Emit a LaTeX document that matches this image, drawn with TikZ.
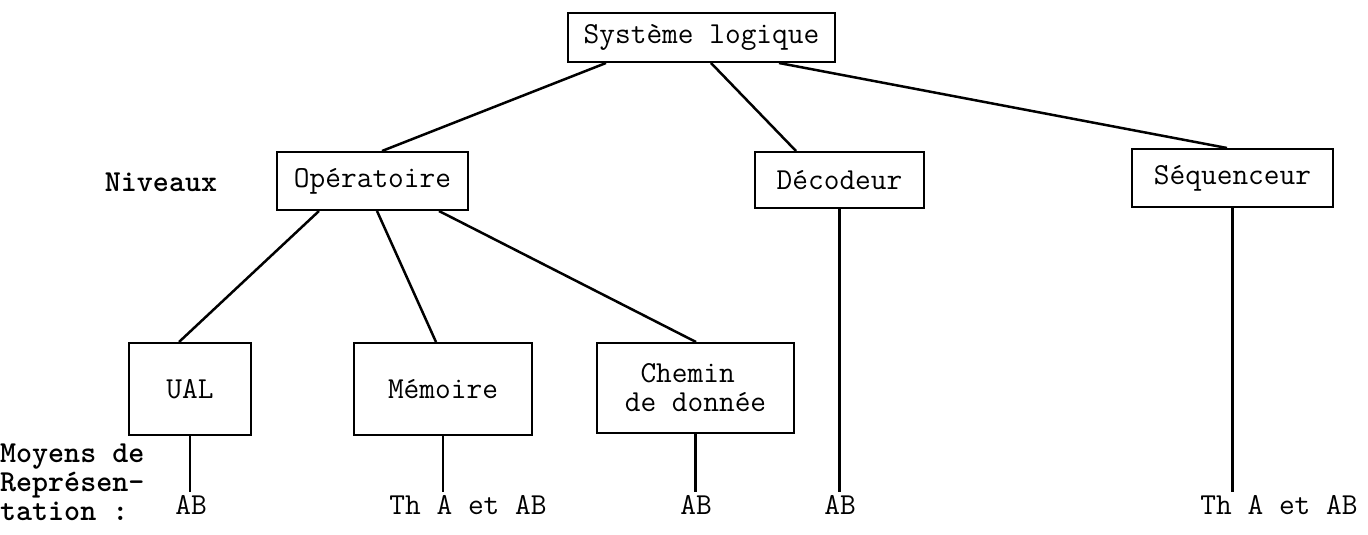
\documentclass[tikz,border=0pt]{standalone}
\usepackage{fontspec}
\begin{document}
\begin{tikzpicture}[x=1pt,y=-1pt,
  every node/.style={font=\ttfamily\fontsize{30.5}{29}\selectfont, inner sep=0pt, text=black},
  box/.style={draw, line width=2pt},
  conn/.style={line width=2.5pt},
  lab/.style={text height=18pt, text depth=0pt, anchor=base},
  side/.style={font=\ttfamily\bfseries\fontsize{30.5}{29}\selectfont}]
\useasboundingbox[fill=white] (0,0) rectangle (1368,535);
% top
\node[box, minimum width=267pt, minimum height=49pt] (sys) at (701.5,37.5) {Système logique};
% level 2
\node[side] (niv) at (161,182) {Niveaux};
\node[box, minimum width=191pt, minimum height=58pt] (ope) at (372.5,181) {Opératoire};
\node[box, minimum width=169pt, minimum height=56pt] (dec) at (839.5,180) {Décodeur};
\node[box, minimum width=201pt, minimum height=58pt] (seq) at (1232.5,178) {Séquenceur};
% level 3
\node[box, minimum width=122pt, minimum height=92pt] (ual) at (190,389) {UAL};
\node[box, minimum width=178pt, minimum height=92pt] (mem) at (443,389) {Mémoire};
\node[box, minimum width=197pt, minimum height=90pt, align=left] (che) at (695.5,388) {~Chemin\\de donnée};
% representation labels
\node[side, align=left, anchor=north west] (moy) at (0,444) {Moyens de\\Représen-\\tation :};
\node[lab] (ualab) at (191,514) {AB};
\node[lab] (memlab) at (468,514) {Th A et AB};
\node[lab] (chelab) at (696,514) {AB};
\node[lab] (declab) at (840,514) {AB};
\node[lab] (seqlab) at (1279,514) {Th A et AB};
% connectors
\draw[conn] ([xshift=39pt]sys.south west) -- ([xshift=106pt]ope.north west);
\draw[conn] ([xshift=144pt]sys.south west) -- ([xshift=42pt]dec.north west);
\draw[conn] ([xshift=212pt]sys.south west) -- ([xshift=96pt]seq.north west);
\draw[conn] ([xshift=43pt]ope.south west) -- ([xshift=51pt]ual.north west);
\draw[conn] ([xshift=101pt]ope.south west) -- ([xshift=83pt]mem.north west);
\draw[conn] ([xshift=163pt]ope.south west) -- ([xshift=100pt]che.north west);
\draw[conn] (ual.south) -- ([yshift=4pt]ualab.north -| ual.south);
\draw[conn] (mem.south) -- ([yshift=4pt]memlab.north -| mem.south);
\draw[conn] (che.south) -- ([yshift=4pt]chelab.north -| che.south);
\draw[conn] (dec.south) -- ([yshift=4pt]declab.north -| dec.south);
\draw[conn] (seq.south) -- ([yshift=4pt]seqlab.north -| seq.south);
\end{tikzpicture}
\end{document}
